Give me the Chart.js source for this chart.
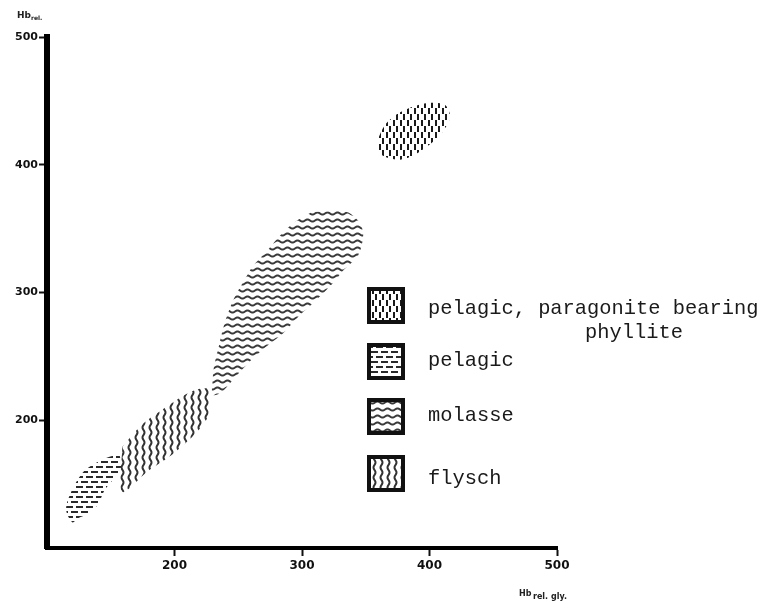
<!DOCTYPE html>
<html>
<head>
<meta charset="utf-8">
<script src="https://cdn.jsdelivr.net/npm/chart.js@4"></script>
<style>
  body { margin: 0; background: #fff; }
  canvas { display: block; }
</style>
</head>
<body>
<canvas id="chart" width="764" height="603"></canvas>
<script>
// Field outlines, x = Hb rel. gly., y = Hb rel.
const paragoniteX = [359, 365, 377, 396, 412, 416, 408, 392, 377, 362];
const paragoniteY = [419, 431, 441, 448, 447, 437, 423, 410, 404, 408];

const molasseX = [308, 335, 345, 348, 344, 333, 324, 311, 298, 285, 271, 259, 247, 237, 230, 230, 231, 235, 239, 246, 255, 261, 273, 285, 297];
const molasseY = [363, 363, 355, 345, 329, 318, 307, 294, 282, 268, 257, 246, 233, 222, 220, 232, 242, 259, 275, 294, 310, 320, 333, 347, 357];

const flyschX = [159, 174, 190, 210, 222, 227, 227, 226, 216, 198, 179, 159];
const flyschY = [179, 196, 208, 221, 225, 224, 208, 202, 189, 173, 160, 144];

const pelagicX = [157, 158, 153, 145, 140, 132, 124, 120, 115, 119, 129, 143, 151];
const pelagicY = [173, 163, 155, 145, 134, 127, 123, 120, 130, 144, 160, 169, 172];

const fieldLabels = ['pelagic, paragonite bearing', 'pelagic', 'molasse', 'flysch'];
const xTickValues = [100, 200, 300, 400, 500];
const yTickValues = [100, 200, 300, 400, 500];

// hatch patterns like the printed figure
function makePattern(kind, color) {
  const c = document.createElement('canvas');
  const g = c.getContext('2d');
  if (kind === 'vdash') {
    c.width = 7; c.height = 12;
    g.fillStyle = color;
    g.fillRect(1, 0, 2, 6);
    g.fillRect(4, 6, 2, 6);
  } else if (kind === 'brick') {
    c.width = 10; c.height = 10;
    g.fillStyle = color;
    g.fillRect(1, 1, 7, 2);
    g.fillRect(6, 6, 4, 2);
    g.fillRect(0, 6, 3, 2);
  } else if (kind === 'hwave') {
    c.width = 10; c.height = 7;
    g.strokeStyle = color;
    g.lineWidth = 2;
    g.beginPath();
    for (let x = -1; x <= 11; x++) {
      const y = 3.5 + 1.1 * Math.sin(x / 10 * Math.PI * 2);
      if (x === -1) g.moveTo(x, y); else g.lineTo(x, y);
    }
    g.stroke();
  } else {
    c.width = 7; c.height = 10;
    g.strokeStyle = color;
    g.lineWidth = 2;
    g.beginPath();
    for (let y = -1; y <= 11; y++) {
      const x = 3.5 + 1.0 * Math.sin(y / 10 * Math.PI * 2);
      if (y === -1) g.moveTo(x, y); else g.lineTo(x, y);
    }
    g.stroke();
  }
  return c;
}

const ctx = document.getElementById('chart').getContext('2d');
const patterns = [
  ctx.createPattern(makePattern('vdash', '#1a1a1a'), 'repeat'),
  ctx.createPattern(makePattern('brick', '#2a2a2a'), 'repeat'),
  ctx.createPattern(makePattern('hwave', '#3a3a3a'), 'repeat'),
  ctx.createPattern(makePattern('vwave', '#333'), 'repeat')
];

function outline(xs, ys) {
  const pts = xs.map((x, i) => ({ x: x, y: ys[i] }));
  pts.push(pts[0]);
  return pts;
}

const fieldData = [
  outline(paragoniteX, paragoniteY),
  outline(pelagicX, pelagicY),
  outline(molasseX, molasseY),
  outline(flyschX, flyschY)
];

// legend boxes and axis titles
const extras = {
  id: 'extras',
  afterDraw(chart) {
    const c = chart.ctx;
    c.save();
    const boxTop = [287, 343, 398, 455];
    const textY = [309, 361, 416, 479];
    for (let i = 0; i < fieldLabels.length; i++) {
      c.fillStyle = '#fff';
      c.fillRect(367, boxTop[i], 38, 37);
      c.fillStyle = patterns[i];
      c.fillRect(369, boxTop[i] + 2, 34, 33);
      c.strokeStyle = '#111';
      c.lineWidth = 4;
      c.strokeRect(369, boxTop[i] + 2, 34, 33);
      c.fillStyle = '#1a1a1a';
      c.font = '20.4px "Liberation Mono"';
      c.textBaseline = 'middle';
      c.textAlign = 'left';
      c.fillText(fieldLabels[i], 428, textY[i]);
    }
    c.fillText('phyllite', 585, 333);

    c.font = 'bold 9px "DejaVu Sans"';
    c.fillStyle = '#222';
    c.textBaseline = 'alphabetic';
    c.fillText('Hb', 17, 18);
    c.font = 'bold 6px "DejaVu Sans"';
    c.fillText('rel.', 31, 20);
    c.font = 'bold 8px "DejaVu Sans"';
    c.fillText('Hb', 519, 596);
    c.fillText('rel. gly.', 533, 599);
    c.restore();
  }
};

const tickColor = ctx => (ctx.tick && ctx.tick.value === 100) ? 'rgba(0,0,0,0)' : '#111';

new Chart(ctx, {
  type: 'scatter',
  data: {
    datasets: fieldData.map((d, i) => ({
      label: fieldLabels[i],
      data: d,
      showLine: true,
      fill: 'shape',
      tension: 0.3,
      pointRadius: 0,
      borderWidth: 0,
      borderColor: 'rgba(0,0,0,0)',
      backgroundColor: patterns[i]
    }))
  },
  options: {
    responsive: false,
    animation: false,
    layout: { padding: { left: 0, top: 37, right: 207, bottom: 0 } },
    plugins: {
      legend: { display: false },
      tooltip: { enabled: false }
    },
    scales: {
      x: {
        type: 'linear',
        min: 100,
        max: 500,
        afterBuildTicks: s => { s.ticks = xTickValues.map(v => ({ value: v })); },
        afterFit: s => { s.height = 55; },
        border: { display: true, color: '#000', width: 4 },
        grid: { drawOnChartArea: false, drawTicks: true, tickLength: 8, tickWidth: 2, tickColor: tickColor },
        ticks: {
          padding: 3,
          color: '#111',
          font: { family: 'DejaVu Sans', size: 12, weight: 'bold' },
          callback: v => v === 100 ? '' : String(v)
        }
      },
      y: {
        type: 'linear',
        min: 100,
        max: 500,
        afterBuildTicks: s => { s.ticks = yTickValues.map(v => ({ value: v })); },
        afterFit: s => { s.width = 47; },
        border: { display: true, color: '#000', width: 6 },
        grid: { drawOnChartArea: false, drawTicks: true, tickLength: 8, tickWidth: 2, tickColor: tickColor },
        ticks: {
          padding: 1,
          color: '#111',
          font: { family: 'DejaVu Sans', size: 11, weight: 'bold' },
          callback: v => v === 100 ? '' : String(v)
        }
      }
    }
  },
  plugins: [extras]
});
</script>
</body>
</html>
